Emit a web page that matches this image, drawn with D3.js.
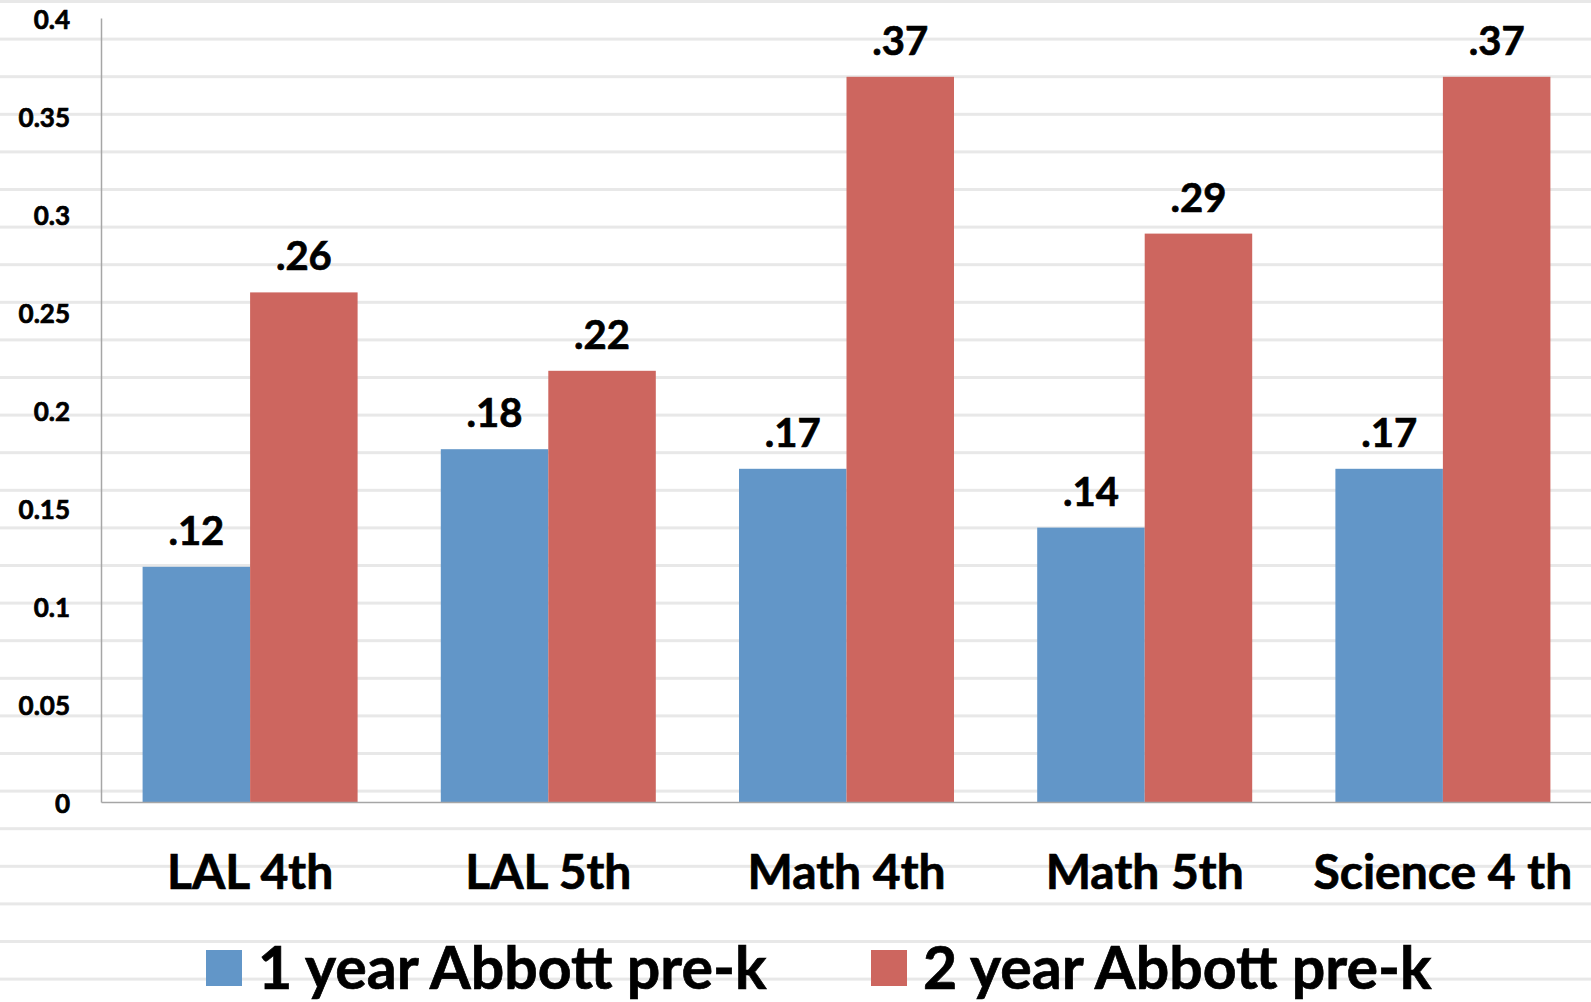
<!DOCTYPE html>
<html>
<head>
<meta charset="utf-8">
<script src="https://cdn.jsdelivr.net/npm/d3@7"></script>
<style>
  html, body { margin: 0; padding: 0; background: #ffffff; }
  svg { display: block; }
  text { font-family: Lato, "Open Sans", sans-serif; font-weight: 700; fill: #000; stroke: #000; stroke-width: 0.7px; }
</style>
</head>
<body>
<svg id="chart" width="1591" height="1002"></svg>
<script>
// Grade / subject groups
const categories = ["LAL 4th", "LAL 5th", "Math 4th", "Math 5th", "Science 4 th"];
// Effect sizes per series
const oneYear = [0.12, 0.18, 0.17, 0.14, 0.17];
const twoYear = [0.26, 0.22, 0.37, 0.29, 0.37];
const seriesNames = ["1 year Abbott pre-k", "2 year Abbott pre-k"];
const seriesColors = ["#6296c8", "#cd665f"];
const yTicks = [0, 0.05, 0.1, 0.15, 0.2, 0.25, 0.3, 0.35, 0.4];
const yTickLabels = ["0", "0.05", "0.1", "0.15", "0.2", "0.25", "0.3", "0.35", "0.4"];

const W = 1591, H = 1002;
const svg = d3.select("#chart");

// Faint ruled background lines
const stripeStep = 37.6;
svg.append("g").selectAll("rect")
  .data(d3.range(0, Math.floor(H / stripeStep) + 1))
  .join("rect")
  .attr("x", 0).attr("width", W)
  .attr("y", d => d * stripeStep)
  .attr("height", 3)
  .attr("fill", "#e8e8e8");

const plot = { left: 101, right: 1592, top: 18, bottom: 802 };

const x0 = d3.scaleBand()
  .domain(categories)
  .range([plot.left, plot.right])
  .paddingInner(0.279)
  .paddingOuter(0.1395);

const x1 = d3.scaleBand()
  .domain(seriesNames)
  .range([0, x0.bandwidth()]);

const y = d3.scaleLinear().domain([0, 0.4]).range([plot.bottom, plot.top]);

const rows = categories.map((c, i) => ({
  cat: c,
  vals: [
    { s: seriesNames[0], v: oneYear[i], color: seriesColors[0] },
    { s: seriesNames[1], v: twoYear[i], color: seriesColors[1] }
  ]
}));

// Bars
const groups = svg.append("g").selectAll("g")
  .data(rows).join("g")
  .attr("transform", d => `translate(${x0(d.cat)},0)`);

groups.selectAll("rect")
  .data(d => d.vals).join("rect")
  .attr("x", d => x1(d.s))
  .attr("width", x1.bandwidth())
  .attr("y", d => y(d.v))
  .attr("height", d => y(0) - y(d.v))
  .attr("fill", d => d.color);

// Value labels above bars
const fmt = v => d3.format(".2f")(v).replace(/^0/, "");
groups.selectAll("text.val")
  .data(d => d.vals).join("text")
  .attr("class", "val")
  .attr("x", d => x1(d.s) + x1.bandwidth() / 2)
  .attr("y", d => y(d.v) - 22)
  .attr("text-anchor", "middle")
  .style("font-size", "40px")
  .text(d => fmt(d.v));

// Y axis
const yAxis = d3.axisLeft(y)
  .tickValues(yTicks)
  .tickFormat((d, i) => yTickLabels[i])
  .tickSize(0)
  .tickPadding(31);
const yg = svg.append("g")
  .attr("transform", `translate(${plot.left},0)`)
  .call(yAxis);
yg.select(".domain").attr("stroke", "#a6a6a6").attr("stroke-width", 1.5);
yg.selectAll(".tick text")
  .attr("dy", "0.42em")
  .style("font-family", "Lato, sans-serif")
  .style("font-weight", 700)
  .style("font-size", "26px")
  .attr("fill", "#000");

// X axis
const xAxis = d3.axisBottom(x0).tickSize(0).tickPadding(53);
const xg = svg.append("g")
  .attr("transform", `translate(0,${plot.bottom})`)
  .call(xAxis);
xg.select(".domain").attr("stroke", "#a6a6a6").attr("stroke-width", 1.5);
xg.selectAll(".tick text")
  .style("font-family", "Lato, sans-serif")
  .style("font-weight", 700)
  .style("font-size", "48px")
  .attr("fill", "#000");

// Legend
const legendItems = [
  { name: seriesNames[0], color: seriesColors[0], x: 206 },
  { name: seriesNames[1], color: seriesColors[1], x: 871 }
];
const lg = svg.append("g").selectAll("g")
  .data(legendItems).join("g")
  .attr("transform", d => `translate(${d.x},950)`);
lg.append("rect").attr("width", 36).attr("height", 36).attr("fill", d => d.color);
lg.append("text")
  .attr("x", 52).attr("y", 39)
  .style("font-size", "59px")
  .text(d => d.name);
</script>
</body>
</html>
